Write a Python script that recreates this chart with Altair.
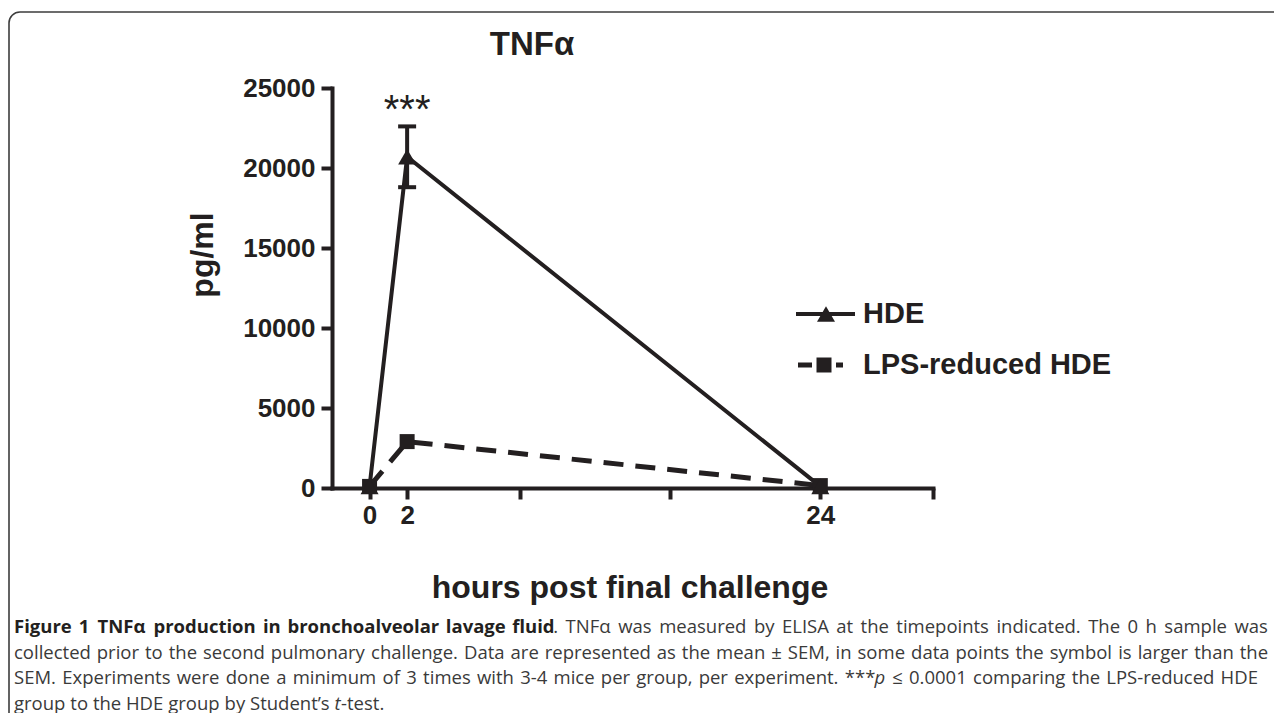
import altair as alt
import pandas as pd

# ---------------- data ----------------
hours = [0, 2, 24]
hde_mean = [100, 20700, 100]
hde_sem = [0, 1900, 0]
lps_mean = [100, 2900, 150]
groups = ["HDE", "LPS-reduced HDE"]

x_ticks = [0, 2, 8, 16, 24, 30]
x_labelled = [0, 2, 24]
y_ticks = [0, 5000, 10000, 15000, 20000, 25000]

chart_title = "TNFα"
y_title = "pg/ml"
x_title = "hours post final challenge"
signif_text = "***"
signif_hour = 2
signif_level = 22800

caption_lines = [
    [("Figure 1 TNFα production in bronchoalveolar lavage fluid", "bold"),
     (". TNFα was measured by ELISA at the timepoints indicated. The 0 h sample was", "normal")],
    [("collected prior to the second pulmonary challenge. Data are represented as the mean ± SEM, in some data points the symbol is larger than the", "normal")],
    [("SEM. Experiments were done a minimum of 3 times with 3-4 mice per group, per experiment. ***", "normal"),
     ("p", "italic"),
     (" ≤ 0.0001 comparing the LPS-reduced HDE", "normal")],
    [("group to the HDE group by Student’s ", "normal"), ("t", "italic"), ("-test.", "normal")],
]

# ---------------- layout ----------------
W, H = 601, 400
PAD_L, PAD_T, PAD_R, PAD_B = 324, 80, 341, 225
BLACK = "#231f20"
AXFONT = "Liberation Sans"


def px(page_x):
    return page_x - 8 - PAD_L


def py(page_y):
    return page_y - 8 - PAD_T


one = pd.DataFrame({"k": [0]})

df_hde = pd.DataFrame({"hour": hours, "mean": hde_mean, "sem": hde_sem})
df_hde["low"] = df_hde["mean"] - df_hde["sem"]
df_hde["high"] = df_hde["mean"] + df_hde["sem"]
df_err = df_hde[df_hde["sem"] > 0]
df_lps = pd.DataFrame({"hour": hours, "mean": lps_mean})

label_expr = "indexof([" + ",".join(str(v) for v in x_labelled) + "], datum.value) >= 0 ? datum.label : ''"
x_scale = alt.Scale(domain=[-2, 30], nice=False, zero=False)
y_scale = alt.Scale(domain=[0, 25000], nice=False)
x_axis = alt.Axis(values=x_ticks, labelExpr=label_expr, title=None, format="d", labelPadding=3)
y_axis = alt.Axis(values=y_ticks, title=None, format="d", labelPadding=6)


def X(f):
    return alt.X(f"{f}:Q", scale=x_scale, axis=x_axis)


def Y(f):
    return alt.Y(f"{f}:Q", scale=y_scale, axis=y_axis)


frame = alt.Chart(one).mark_rect(cornerRadius=11, fillOpacity=0, stroke="#3d3d3d", strokeWidth=1.6).encode(
    x=alt.value(px(9)), x2=alt.value(px(1600)), y=alt.value(py(12)), y2=alt.value(py(1000)))

line_lps = alt.Chart(df_lps).mark_line(color=BLACK, strokeWidth=5, strokeDash=[20, 12]).encode(x=X("hour"), y=Y("mean"))
line_hde = alt.Chart(df_hde).mark_line(color=BLACK, strokeWidth=4).encode(x=X("hour"), y=Y("mean"))
err_rule = alt.Chart(df_err).mark_rule(color=BLACK, strokeWidth=4, opacity=1).encode(x=X("hour"), y=Y("low"), y2="high:Q")
cap_lo = alt.Chart(df_err).mark_tick(color=BLACK, orient="horizontal", size=18, thickness=4, opacity=1).encode(x=X("hour"), y=Y("low"))
cap_hi = alt.Chart(df_err).mark_tick(color=BLACK, orient="horizontal", size=18, thickness=4, opacity=1).encode(x=X("hour"), y=Y("high"))
pts_lps = alt.Chart(df_lps).mark_point(shape="square", size=225, filled=True, color=BLACK, opacity=1).encode(x=X("hour"), y=Y("mean"))
pts_hde = alt.Chart(df_hde).mark_point(shape="triangle-up", size=324, filled=True, color=BLACK, opacity=1).encode(x=X("hour"), y=Y("mean"))

sig = alt.Chart(pd.DataFrame({"hour": [signif_hour], "lvl": [signif_level], "t": [signif_text]})).mark_text(
    font=AXFONT, fontSize=40, color=BLACK, align="center", baseline="alphabetic").encode(x=X("hour"), y=Y("lvl"), text="t:N")

# legend (manual)
leg = [
    alt.Chart(one).mark_rule(color=BLACK, strokeWidth=4).encode(x=alt.value(px(796)), x2=alt.value(px(855)), y=alt.value(py(314))),
    alt.Chart(one).mark_point(shape="triangle-up", size=324, filled=True, color=BLACK, opacity=1).encode(x=alt.value(px(826)), y=alt.value(py(314))),
    alt.Chart(one).mark_text(text=groups[0], font=AXFONT, fontWeight="bold", fontSize=29, color=BLACK, align="left", baseline="middle").encode(
        x=alt.value(px(863)), y=alt.value(py(314))),
    alt.Chart(one).mark_rule(color=BLACK, strokeWidth=5, strokeDash=[14, 5]).encode(x=alt.value(px(798)), x2=alt.value(px(843)), y=alt.value(py(365))),
    alt.Chart(one).mark_point(shape="square", size=225, filled=True, color=BLACK, opacity=1).encode(x=alt.value(px(824)), y=alt.value(py(365))),
    alt.Chart(one).mark_text(text=groups[1], font=AXFONT, fontWeight="bold", fontSize=29, color=BLACK, align="left", baseline="middle").encode(
        x=alt.value(px(863)), y=alt.value(py(365))),
]

titles = [
    alt.Chart(one).mark_text(text=chart_title, font=AXFONT, fontWeight="bold", fontSize=33,
                             color=BLACK, align="center", baseline="alphabetic").encode(x=alt.value(px(532)), y=alt.value(py(55))),
    alt.Chart(one).mark_text(text=y_title, font=AXFONT, fontWeight="bold", fontSize=32, color=BLACK, angle=270,
                             align="center", baseline="middle").encode(x=alt.value(px(203)), y=alt.value(py(255))),
    alt.Chart(one).mark_text(text=x_title, font=AXFONT, fontWeight="bold", fontSize=32, color=BLACK,
                             align="center", baseline="middle").encode(x=alt.value(px(630)), y=alt.value(py(588))),
]

# ---------------- caption (justified word placement) ----------------
CW = {' ': .26, 'a': .556, 'b': .613, 'c': .476, 'd': .613, 'e': .561, 'f': .339, 'g': .548, 'h': .614, 'i': .253,
      'j': .253, 'k': .525, 'l': .253, 'm': .930, 'n': .614, 'o': .604, 'p': .613, 'q': .613, 'r': .408, 's': .477,
      't': .353, 'u': .614, 'v': .501, 'w': .778, 'x': .524, 'y': .502, 'z': .454, 'A': .633, 'B': .648, 'C': .631,
      'D': .729, 'E': .556, 'F': .516, 'G': .728, 'H': .738, 'I': .279, 'L': .519, 'M': .903, 'N': .760, 'P': .603,
      'S': .549, 'T': .551, 'α': .62, '.': .266, ',': .245, '-': .322, '’': .174, '*': .537, '±': .572, '≤': .572}
CAP_SIZE = 18.5


def tw(s, style):
    w = sum(CW.get(c, .572) for c in s) * CAP_SIZE
    return w * (1.07 if style == "bold" else 1.0)


cap_left = 14
cap_right = [1268, 1268, 1258, None]
cap_y = [627, 652.5, 678, 703.5]

rows = []
for li, segs in enumerate(caption_lines):
    chars = [(c, st) for s, st in segs for c in s]
    words, cur = [], []
    for c, st in chars:
        if c == " ":
            if cur:
                words.append(cur)
            cur = []
        else:
            cur.append((c, st))
    if cur:
        words.append(cur)
    runs_list = []
    for wd in words:
        runs = []
        for c, st in wd:
            if runs and runs[-1][1] == st:
                runs[-1][0] += c
            else:
                runs.append([c, st])
        runs_list.append(runs)
    widths = [sum(tw(t, st) for t, st in r) for r in runs_list]
    if cap_right[li] is not None and len(widths) > 1:
        gap = (cap_right[li] - cap_left - sum(widths)) / (len(widths) - 1)
    else:
        gap = CW[' '] * CAP_SIZE
    xpos = cap_left
    for r, wdt in zip(runs_list, widths):
        xx = xpos
        for t, st in r:
            rows.append({"text": t, "x": px(xx), "y": py(cap_y[li]), "style": st})
            xx += tw(t, st)
        xpos += wdt + gap

cap_df = pd.DataFrame(rows)
cap_layers = []
for st, kw in [("normal", {}), ("bold", {"fontWeight": "bold"}), ("italic", {"fontStyle": "italic"})]:
    d = cap_df[cap_df["style"] == st]
    if len(d):
        cap_layers.append(
            alt.Chart(d).mark_text(font="Open Sans", fontSize=CAP_SIZE, color=("#231f20" if st == "bold" else "#3a3a3a"),
                                   align="left", baseline="middle", **kw).encode(
                x=alt.X("x:Q", scale=None, axis=None), y=alt.Y("y:Q", scale=None, axis=None), text="text:N"))

chart = alt.layer(
    frame, line_lps, line_hde, err_rule, cap_lo, cap_hi, pts_lps, pts_hde, sig, *leg, *titles, *cap_layers
).properties(
    width=W, height=H,
    padding={"left": PAD_L, "top": PAD_T, "right": PAD_R, "bottom": PAD_B},
    autosize=alt.AutoSizeParams(type="none"),
).configure_view(stroke=None).configure_axis(
    grid=False, domainColor=BLACK, domainWidth=4, domainCap="square", tickColor=BLACK, tickWidth=4, tickSize=11,
    labelFont=AXFONT, labelFontWeight="bold", labelFontSize=26, labelColor=BLACK,
)

chart.save("out.html", embed_options={"renderer": "svg", "actions": False})
